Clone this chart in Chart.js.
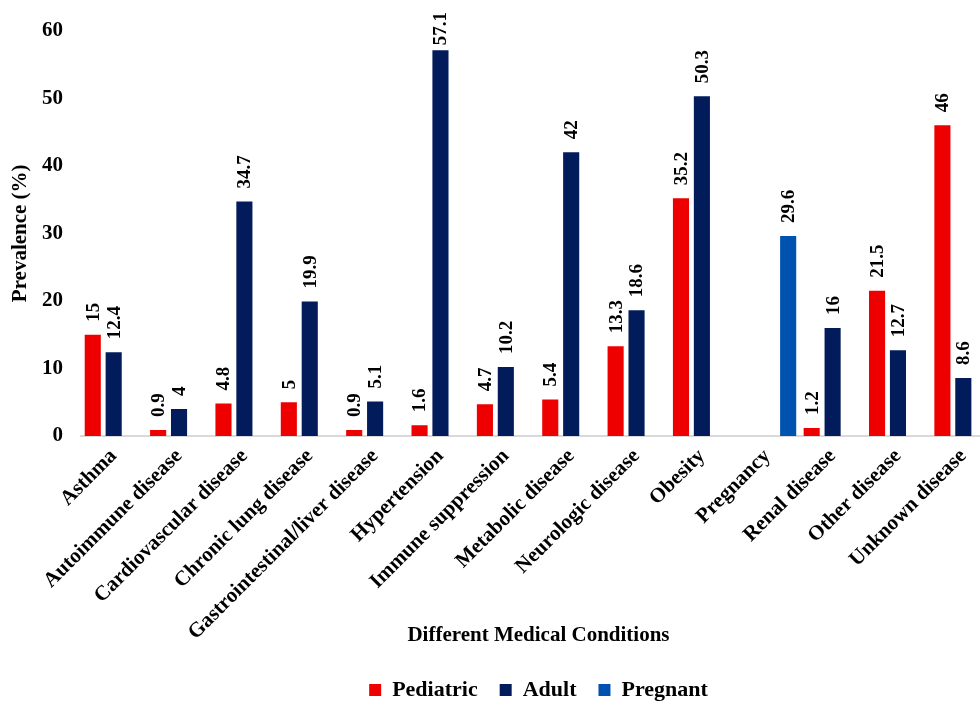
<!DOCTYPE html>
<html>
<head>
<meta charset="utf-8">
<script src="https://cdn.jsdelivr.net/npm/chart.js@4.4.0/dist/chart.umd.min.js"></script>
<style>
  html, body { margin: 0; padding: 0; background: #fff; overflow: hidden; }
  #wrap { width: 1000px; height: 707px; }
</style>
</head>
<body>
<div id="wrap"><canvas id="chart" width="1000" height="707"></canvas></div>
<script>
// === Data ===
const conditions = [
  "Asthma", "Autoimmune disease", "Cardiovascular disease", "Chronic lung disease",
  "Gastrointestinal/liver disease", "Hypertension", "Immune suppression",
  "Metabolic disease", "Neurologic disease", "Obesity", "Pregnancy",
  "Renal disease", "Other disease", "Unknown disease"
];
const pediatric = [15, 0.9, 4.8, 5, 0.9, 1.6, 4.7, 5.4, 13.3, 35.2, null, 1.2, 21.5, 46];
const adult = [12.4, 4, 34.7, 19.9, 5.1, 57.1, 10.2, 42, 18.6, 50.3, null, 16, 12.7, 8.6];
const pregnant = [null, null, null, null, null, null, null, null, null, null, 29.6, null, null, null];
const yTicks = [0, 10, 20, 30, 40, 50, 60];

const FONT = "'Liberation Serif', 'Times New Roman', serif";

// === Value labels above bars (rotated) ===
const barLabels = {
  id: "barLabels",
  afterDatasetsDraw(chart) {
    const c = chart.ctx;
    c.save();
    c.font = "bold 19px " + FONT;
    c.fillStyle = "#000";
    c.textAlign = "left";
    c.textBaseline = "middle";
    chart.data.datasets.forEach((ds, i) => {
      chart.getDatasetMeta(i).data.forEach((bar, j) => {
        const v = ds.data[j];
        if (v === null || v === undefined) return;
        const txt = String(v);
        const w = c.measureText(txt).width;
        const start = Math.max(bar.y - 13, 12 + w);
        c.save();
        c.translate(bar.x, start);
        c.rotate(-Math.PI / 2);
        c.fillText(txt, 0, 1);
        c.restore();
      });
    });
    c.restore();
  }
};

new Chart(document.getElementById("chart"), {
  type: "bar",
  data: {
    labels: conditions,
    datasets: [
      { label: "Pediatric", data: pediatric, backgroundColor: "#EE0000" },
      { label: "Adult", data: adult, backgroundColor: "#021B5B" },
      { label: "Pregnant", data: pregnant, backgroundColor: "#0052B0" }
    ]
  },
  options: {
    responsive: false,
    animation: false,
    layout: { padding: { top: 28, left: 0, right: 4, bottom: -4 } },
    datasets: { bar: { categoryPercentage: 0.96, barPercentage: 0.77 } },
    plugins: {
      legend: {
        position: "bottom",
        fullSize: false,
        labels: {
          boxWidth: 12, boxHeight: 12, padding: 22,
          color: "#000",
          font: { family: FONT, size: 22, weight: "bold" }
        }
      },
      tooltip: { enabled: false }
    },
    scales: {
      x: {
        grid: { display: false, drawTicks: false },
        border: { color: "#d9d9d9", width: 2 },
        ticks: {
          color: "#000", maxRotation: 45, minRotation: 45, autoSkip: false, padding: 8,
          font: { family: FONT, size: 21, weight: "bold" }
        },
        title: {
          display: true, text: "Different Medical Conditions", color: "#000",
          padding: { top: 0, bottom: 9 },
          font: { family: FONT, size: 21, weight: "bold" }
        },
        afterFit: axis => { axis.height = 221; }
      },
      y: {
        min: 0, max: 60,
        afterBuildTicks: axis => { axis.ticks = yTicks.map(v => ({ value: v })); },
        grid: { display: false, drawTicks: false },
        border: { display: false },
        ticks: {
          color: "#000", padding: 18,
          font: { family: FONT, size: 21, weight: "bold" }
        },
        title: {
          display: true, text: "Prevalence (%)", color: "#000",
          padding: { top: 8, bottom: 0 },
          font: { family: FONT, size: 21, weight: "bold" }
        },
        afterFit: axis => { axis.width = 81; }
      }
    }
  },
  plugins: [barLabels]
});
</script>
</body>
</html>
